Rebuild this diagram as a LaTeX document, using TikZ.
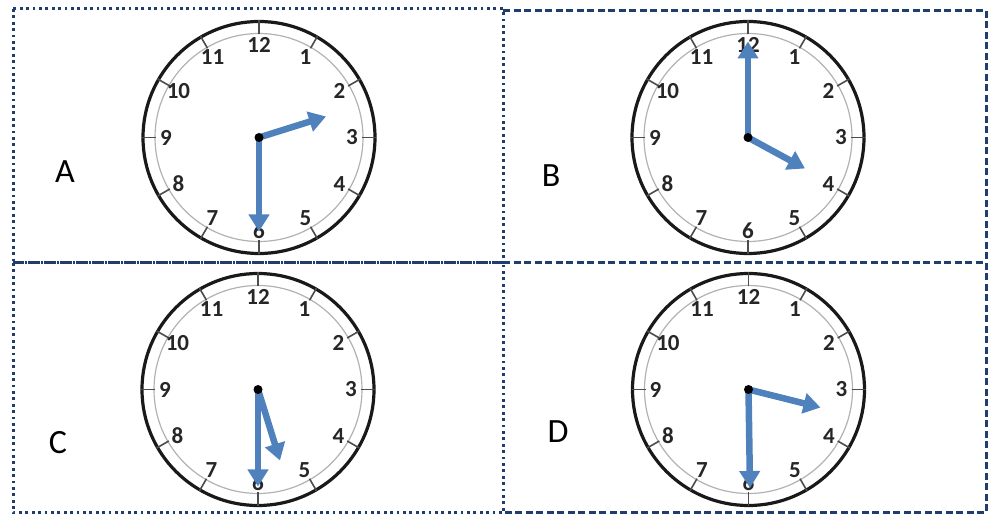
\documentclass[tikz,border=0pt]{standalone}
\usepackage{fontspec}
\setmainfont{Carlito}
\usetikzlibrary{arrows.meta}
\definecolor{framenavy}{HTML}{1F3E6E}
\definecolor{handblue}{HTML}{4F81BD}
\begin{document}
\begin{tikzpicture}[x=1pt, y=-1pt,
    dotframe/.style={draw=framenavy, line width=3pt, dash pattern=on 2.8pt off 3.6pt},
    dashframe/.style={draw=framenavy, line width=3pt, dash pattern=on 7pt off 3.5pt},
    dial/.style={draw=black!90, line width=3.2pt},
    ring/.style={draw=gray!60, line width=1.2pt},
    hourtick/.style={draw=black!70, line width=1.6pt},
    num/.style={font=\fontsize{23}{23}\selectfont\bfseries, text=black!85, inner sep=0pt},
    hand/.style={draw=handblue, line width=6.5pt, -{Triangle[length=17pt, width=20pt]}},
    lbl/.style={font=\fontsize{34}{34}\selectfont, inner sep=0pt}]
    \useasboundingbox (0,0) rectangle (989,518);
    % panels
    \draw[dotframe] (13,9) rectangle (503,263);
    \draw[dotframe] (13,263) rectangle (503,513);
    \draw[dashframe] (503,11) -- (986,11) -- (986,513) -- (503,513);
    \draw[dashframe] (503,263) -- (986,263);
    % clock faces
    \foreach \c/\x/\y in {A/259/137.5, B/748/137.5, C/258/389.5, D/748.5/389.5} {
        \coordinate (c\c) at (\x,\y);
        \begin{scope}[shift={(c\c)}]
            \draw[dial] (0,0) circle (116);
            \draw[ring] (0,0) circle (104);
            \foreach \h in {1,...,12} {
                \draw[hourtick] (30*\h-90:103) -- (30*\h-90:117);
                \node[num] (n\c\h) at (30*\h-90:93) {\h};
            }
        \end{scope}
    }
    % hands: minute / hour
    \foreach \c/\mx/\my/\hx/\hy in {A/0/94/67/-21, B/0/-96/57/31, C/0/97/22/71, D/1.5/98.5/72/18} {
        \path (c\c) ++(\mx,\my) coordinate (m\c);
        \path (c\c) ++(\hx,\hy) coordinate (h\c);
        \draw[hand] (c\c) -- (m\c);
        \draw[hand] (c\c) -- (h\c);
        \fill[black] (c\c) circle (4.5);
    }
    % answer letters
    \node[lbl] (lA) at (65,172) {A};
    \node[lbl] (lB) at (551,176) {B};
    \node[lbl] (lC) at (58,443) {C};
    \node[lbl] (lD) at (558,432) {D};
\end{tikzpicture}
\end{document}
